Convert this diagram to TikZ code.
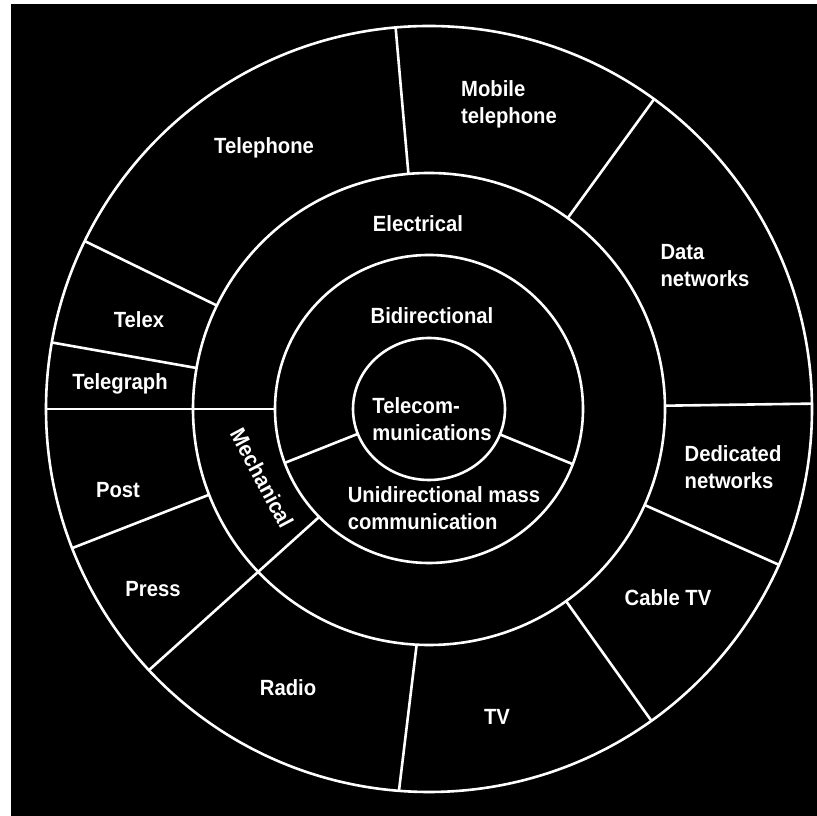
\documentclass[tikz,border=0pt]{standalone}
\usepackage{fontspec}
\setmainfont[FakeStretch=0.92]{Liberation Sans}

\begin{document}
\begin{tikzpicture}[x=1pt,y=1pt]

        \useasboundingbox (0,0) rectangle (817,816);
        \fill[black] (11,0) rectangle (817,812);

        \begin{scope}[shift={(429,407)}, draw=white, line width=2.6pt]
          % rings
          \draw (0,0) circle (383pt);
          \draw (0,0) circle (236pt);
          \draw (0,0) circle (154pt);
          \draw (0,0) ellipse (76pt and 71pt);

          % outer ring
          \draw (95:236pt)    -- (95:383pt);
          \draw (54:236pt)    -- (54:383pt);
          \draw (0.8:236pt)   -- (0.8:383pt);
          \draw (-24:236pt)   -- (-24:383pt);
          \draw (-54.5:236pt) -- (-54.5:383pt);
          \draw (-93:236pt)   -- (-94.5:383pt);
          \draw (-158.7:236pt) -- (-158.7:383pt);
          \draw (170:236pt)   -- (170:383pt);
          \draw (154:236pt)   -- (154:383pt);

          % middle ring
          \draw (180:154pt)    -- (180:383pt);
          \draw (-135.5:154pt) -- (-137:383pt);

          % inner ring
          \draw (-159.5:76pt and 71pt) -- (-159.5:154pt);
          \draw (-21:76pt and 71pt)    -- (-21:154pt);
        \end{scope}

        \begin{scope}[every node/.style={text=white, align=left, font=\bfseries\fontsize{22}{27}\selectfont}]
          \node (tel)    at (264,668) {Telephone};
          \node (mob)    at (509,712) {Mobile\\telephone};
          \node (data)   at (705,550) {Data\\networks};
          \node (ded)    at (733,349) {Dedicated\\networks};
          \node (cab)    at (668,218) {Cable TV};
          \node (tv)     at (497,99)  {TV};
          \node (rad)    at (288,128) {Radio};
          \node (press)  at (153,227) {Press};
          \node (post)   at (118,326) {Post};
          \node (tgraph) at (120,432) {Telegraph};
          \node (telex)  at (139,496) {Telex};
          \node (elec)   at (418,592) {Electrical};
          \node (bidir)  at (432,500) {Bidirectional};
          \node (tcom)   at (432,397) {Telecom-\\munications};
          \node (unidir) at (444,308) {Unidirectional mass\\communication};
          \node[rotate=-62] (mech) at (262,338) {Mechanical};
        \end{scope}

      \end{tikzpicture}
\end{document}
